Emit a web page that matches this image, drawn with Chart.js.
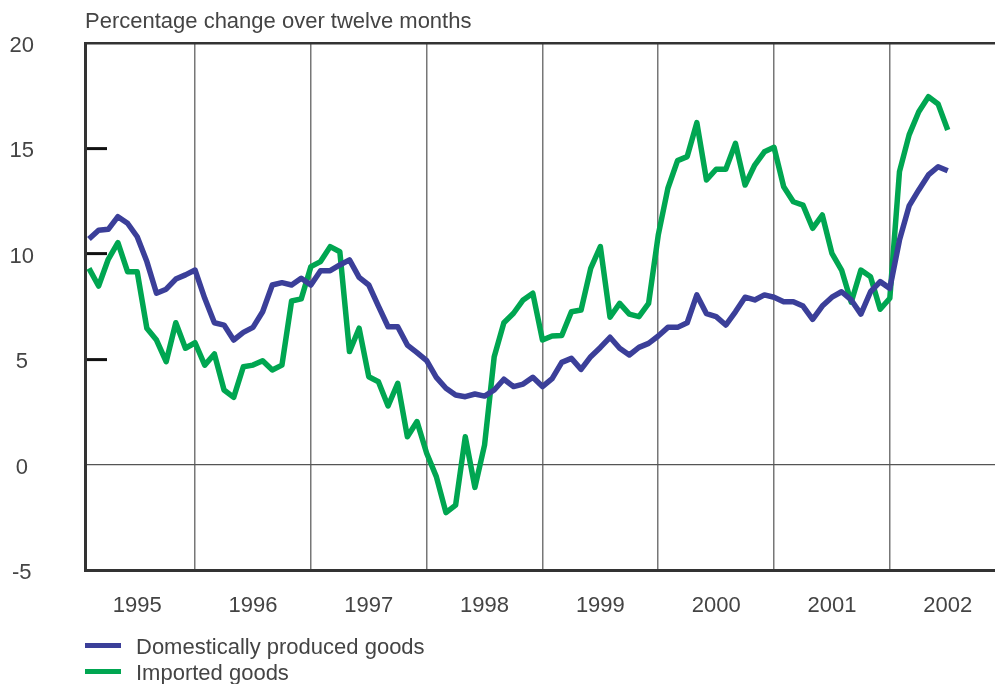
<!DOCTYPE html>
<html>
<head>
<meta charset="utf-8">
<script src="https://cdn.jsdelivr.net/npm/chart.js@4.4.0/dist/chart.umd.min.js"></script>
<style>
    body { margin: 0; background: #fff; }
    #wrap { position: relative; width: 995px; height: 684px; overflow: hidden; font-family: 'Liberation Sans', Arial, sans-serif; color: #444; }
    #chart { display: block; }
    #title { position: absolute; left: 85px; top: 8px; font-size: 22px; white-space: nowrap; }
    #legend { position: absolute; left: 85px; top: 634px; }
    .legend-item { position: relative; height: 26px; line-height: 26px; font-size: 22px; padding-left: 51px; white-space: nowrap; }
    .legend-swatch { position: absolute; left: 0; top: 9px; width: 36px; height: 5px; }
</style>
</head>
<body>
<div id="wrap">
    <canvas id="chart" width="995" height="684"></canvas>
    <div id="title">Percentage change over twelve months</div>
    <div id="legend"></div>
</div>
<script>
// Monthly data, January 1995 - June 2002
const yearLabels = ['1995', '1996', '1997', '1998', '1999', '2000', '2001', '2002'];

const domestic = [
    10.70, 11.12, 11.16, 11.76, 11.45, 10.81, 9.63, 8.13, 8.32, 8.80, 9.00, 9.23,
    7.89, 6.73, 6.62, 5.91, 6.27, 6.51, 7.25, 8.52, 8.63, 8.52, 8.84, 8.52,
    9.20, 9.20, 9.47, 9.71, 8.88, 8.52, 7.52, 6.54, 6.54, 5.67, 5.31, 4.93,
    4.14, 3.62, 3.30, 3.22, 3.35, 3.25, 3.54, 4.05, 3.70, 3.82, 4.14, 3.70,
    4.08, 4.85, 5.04, 4.52, 5.12, 5.56, 6.04, 5.52, 5.20, 5.56, 5.75, 6.10,
    6.51, 6.51, 6.73, 8.05, 7.16, 7.02, 6.62, 7.25, 7.94, 7.81, 8.05, 7.94,
    7.73, 7.73, 7.52, 6.89, 7.52, 7.94, 8.20, 7.81, 7.14, 8.20, 8.68, 8.36,
    10.65, 12.27, 13.03, 13.74, 14.13, 13.94
];

const imported = [
    9.31, 8.47, 9.74, 10.53, 9.15, 9.15, 6.47, 5.91, 4.88, 6.73, 5.52, 5.78,
    4.72, 5.25, 3.54, 3.19, 4.64, 4.72, 4.93, 4.49, 4.72, 7.76, 7.86, 9.39,
    9.63, 10.34, 10.10, 5.36, 6.47, 4.17, 3.93, 2.78, 3.86, 1.32, 2.04, 0.54,
    -0.57, -2.28, -1.92, 1.32, -1.08, 0.93, 5.12, 6.73, 7.18, 7.81, 8.13, 5.91,
    6.10, 6.12, 7.25, 7.33, 9.31, 10.34, 6.99, 7.65, 7.14, 7.02, 7.65, 10.89,
    13.11, 14.42, 14.61, 16.22, 13.50, 14.01, 14.01, 15.24, 13.26, 14.21, 14.84, 15.05,
    13.18, 12.47, 12.31, 11.21, 11.84, 10.02, 9.23, 7.70, 9.23, 8.91, 7.37, 7.89,
    13.90, 15.64, 16.74, 17.45, 17.11, 15.87
];

const FONT = { family: "'Liberation Sans', Arial, sans-serif", size: 22 };
const TEXT = '#444';
const X_MIN = -0.41;
const X_MAX = 93.9;

function toPoints(values) {
    return values.map((v, i) => ({ x: i, y: v }));
}

const chart = new Chart(document.getElementById('chart'), {
    type: 'line',
    data: {
        datasets: [{
            label: 'Domestically produced goods',
            data: toPoints(domestic),
            borderColor: '#3b3f99',
            backgroundColor: '#3b3f99',
            borderWidth: 5.5,
            pointRadius: 0,
            tension: 0,
            borderJoinStyle: 'round'
        }, {
            label: 'Imported goods',
            data: toPoints(imported),
            borderColor: '#00a651',
            backgroundColor: '#00a651',
            borderWidth: 5.5,
            pointRadius: 0,
            tension: 0,
            borderJoinStyle: 'round'
        }]
    },
    options: {
        responsive: false,
        animation: false,
        layout: { padding: { top: 43, right: 0, bottom: 0, left: 0 } },
        plugins: {
            legend: { display: false },
            tooltip: { enabled: false }
        },
        scales: {
            x: {
                type: 'linear',
                min: X_MIN,
                max: X_MAX,
                afterBuildTicks: scale => {
                    // year boundaries fall on each December
                    scale.ticks = yearLabels.slice(1).map((_, k) => ({ value: 12 * (k + 1) - 1 }));
                },
                ticks: { display: false },
                grid: { color: '#777', lineWidth: 1.5, drawTicks: false },
                border: { color: '#333', width: 3 }
            },
            x2: {
                type: 'linear',
                position: 'bottom',
                min: X_MIN,
                max: X_MAX,
                afterBuildTicks: scale => {
                    scale.ticks = yearLabels.map((_, k) => ({ value: 12 * k + 5 }));
                },
                afterFit: scale => { scale.height = 114; },
                ticks: {
                    padding: 15,
                    autoSkip: false,
                    maxRotation: 0,
                    color: TEXT,
                    font: FONT,
                    callback: (value, index) => yearLabels[index]
                },
                grid: { display: false },
                border: { display: false }
            },
            y: {
                min: -5,
                max: 20,
                afterFit: scale => {
                    scale.width = 85;
                    scale.paddingTop = 13;
                    scale.paddingBottom = 13;
                },
                ticks: {
                    stepSize: 5,
                    padding: 73,
                    labelOffset: 3,
                    crossAlign: 'center',
                    color: TEXT,
                    font: FONT
                },
                grid: {
                    tickLength: -22,
                    tickWidth: 3,
                    tickColor: ctx => [5, 10, 15].includes(ctx.tick.value) ? '#111' : 'rgba(0,0,0,0)',
                    color: ctx => ctx.tick.value === 0 ? '#555' : ctx.tick.value === 20 ? '#333' : 'rgba(0,0,0,0)',
                    lineWidth: ctx => ctx.tick.value === 20 ? 2.5 : 1.2
                },
                border: { color: '#333', width: 3 }
            }
        }
    }
});

// Legend stacked vertically below the axis
const legend = document.getElementById('legend');
chart.data.datasets.forEach(ds => {
    const item = document.createElement('div');
    item.className = 'legend-item';
    item.innerHTML = `<span class="legend-swatch" style="background:${ds.borderColor}"></span>${ds.label}`;
    legend.appendChild(item);
});
</script>
</body>
</html>
